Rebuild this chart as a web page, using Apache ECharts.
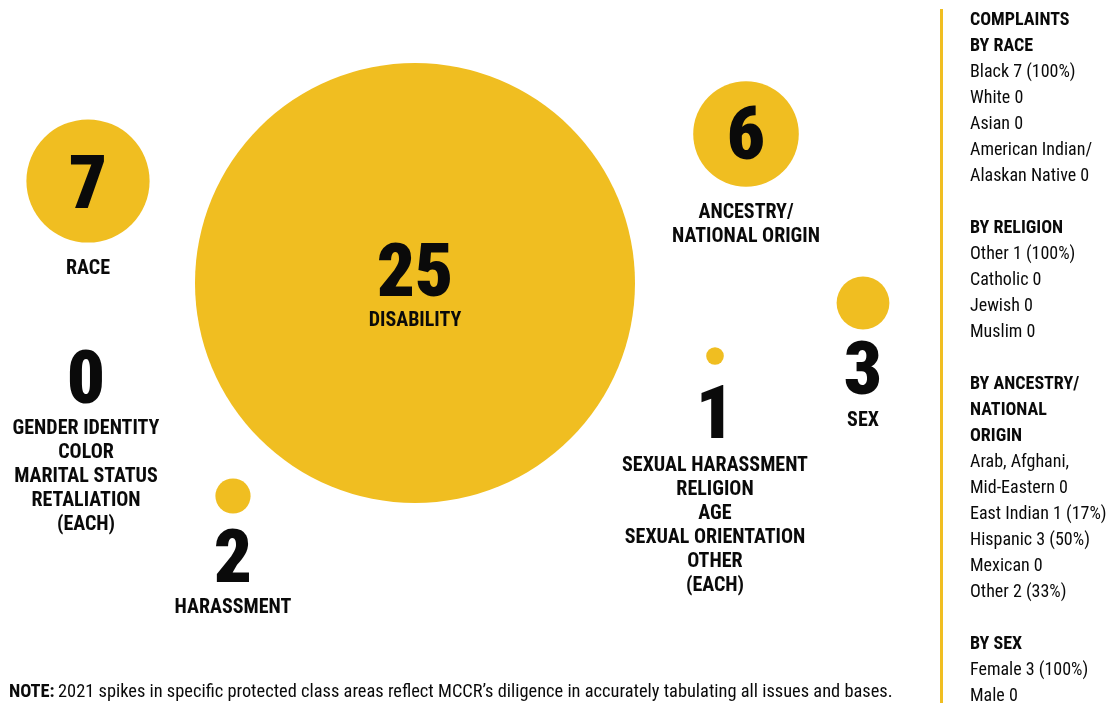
<!DOCTYPE html>
<html>
<head>
<meta charset="utf-8">
<script src="https://cdn.jsdelivr.net/npm/echarts@6/dist/echarts.min.js"></script>
<style>
  html, body { margin: 0; padding: 0; background: #fff; }
  #chart { width: 1113px; height: 703px; }
</style>
</head>
<body>
<div id="chart"></div>
<script>
// Complaints by protected class (bases)
const categories = [
  'RACE',
  'DISABILITY',
  'ANCESTRY/\nNATIONAL ORIGIN',
  'SEX',
  'HARASSMENT',
  'SEXUAL HARASSMENT\nRELIGION\nAGE\nSEXUAL ORIENTATION\nOTHER\n(EACH)',
  'GENDER IDENTITY\nCOLOR\nMARITAL STATUS\nRETALIATION\n(EACH)'
];
const complaintCounts = [7, 25, 6, 3, 2, 1, 0];

// Layout of the bubble cluster, in plot units (1 unit = 1 px)
const bubbleX = [88, 415, 746, 863, 233, 715, 86];
const bubbleY = [181, 283, 134, 303, 496, 356, 0];
const numberY = [183, 271, 134, 369, 557, 413, 378];
const nameY   = [267, 319, 223, 419, 606, 524, 475];

// Breakdown panel
const raceLines = ['Black 7 (100%)', 'White 0', 'Asian 0', 'American Indian/', 'Alaskan Native 0'];
const religionLines = ['Other 1 (100%)', 'Catholic 0', 'Jewish 0', 'Muslim 0'];
const ancestryLines = ['Arab, Afghani,', 'Mid-Eastern 0', 'East Indian 1 (17%)', 'Hispanic 3 (50%)', 'Mexican 0', 'Other 2 (33%)'];
const sexLines = ['Female 3 (100%)', 'Male 0'];

const noteText = '2021 spikes in specific protected class areas reflect MCCR\u2019s diligence in accurately tabulating all issues and bases.';

const YELLOW = '#F0BE21';
const INK = '#0a0a0a';
const FONT = '"Roboto Condensed", Roboto, sans-serif';

// radius grows linearly with the count
const RADIUS_PER_COMPLAINT = 8.8;

const bubbleData = [];
const numberData = [];
const nameData = [];
categories.forEach((name, i) => {
  if (complaintCounts[i] > 0) {
    bubbleData.push({ name: name, value: [bubbleX[i], bubbleY[i], complaintCounts[i]] });
  }
  numberData.push({ name: name, value: [bubbleX[i], numberY[i], complaintCounts[i]] });
  nameData.push({ name: name, value: [bubbleX[i], nameY[i], complaintCounts[i]] });
});

const bold = t => '{b|' + t + '}';
const reg = t => '{r|' + t + '}';
const panelText = [
  bold('COMPLAINTS'), bold('BY RACE'), ...raceLines.map(reg), '{r| }',
  bold('BY RELIGION'), ...religionLines.map(reg), '{r| }',
  bold('BY ANCESTRY/'), bold('NATIONAL'), bold('ORIGIN'), ...ancestryLines.map(reg), '{r| }',
  bold('BY SEX'), ...sexLines.map(reg)
].join('\n');

const chart = echarts.init(document.getElementById('chart'), null, { renderer: 'canvas' });

chart.setOption({
  animation: false,
  backgroundColor: '#ffffff',
  grid: { left: 0, right: 0, top: 0, bottom: 0 },
  xAxis: { type: 'value', min: 0, max: 1113, show: false },
  yAxis: { type: 'value', min: 0, max: 703, inverse: true, show: false },
  series: [
    {
      type: 'scatter',
      data: bubbleData,
      symbol: 'circle',
      symbolSize: v => v[2] * RADIUS_PER_COMPLAINT * 2,
      itemStyle: { color: YELLOW, opacity: 1 },
      silent: true,
      z: 1
    },
    {
      type: 'scatter',
      data: numberData,
      symbolSize: 0,
      itemStyle: { opacity: 1 },
      silent: true,
      z: 3,
      label: {
        show: true,
        position: 'inside',
        offset: [0, 6],
        formatter: p => String(p.value[2]),
        fontFamily: FONT,
        fontSize: 75,
        fontWeight: 900,
        color: INK
      }
    },
    {
      type: 'scatter',
      data: nameData,
      symbolSize: 0,
      itemStyle: { opacity: 1 },
      silent: true,
      z: 3,
      label: {
        show: true,
        position: 'inside',
        offset: [0, 2],
        formatter: p => p.name,
        fontFamily: FONT,
        fontSize: 20,
        fontWeight: 'bold',
        lineHeight: 24,
        align: 'center',
        verticalAlign: 'middle',
        color: INK
      }
    }
  ],
  graphic: [
    {
      type: 'rect',
      shape: { x: 940, y: 9, width: 3, height: 700 },
      style: { fill: YELLOW },
      silent: true
    },
    {
      type: 'text',
      left: 970,
      top: 11,
      silent: true,
      style: {
        text: panelText,
        rich: {
          b: { fontFamily: FONT, fontSize: 18, fontWeight: 'bold', lineHeight: 26, fill: INK },
          r: { fontFamily: FONT, fontSize: 18, fontWeight: 'normal', lineHeight: 26, fill: INK }
        }
      }
    },
    {
      type: 'text',
      left: 9,
      top: 683,
      silent: true,
      style: {
        text: '{b|NOTE:} {r|' + noteText + '}',
        rich: {
          b: { fontFamily: FONT, fontSize: 18.4, fontWeight: 'bold', lineHeight: 20, fill: INK },
          r: { fontFamily: FONT, fontSize: 18.4, fontWeight: 'normal', lineHeight: 20, fill: INK }
        }
      }
    }
  ]
});
</script>
</body>
</html>
